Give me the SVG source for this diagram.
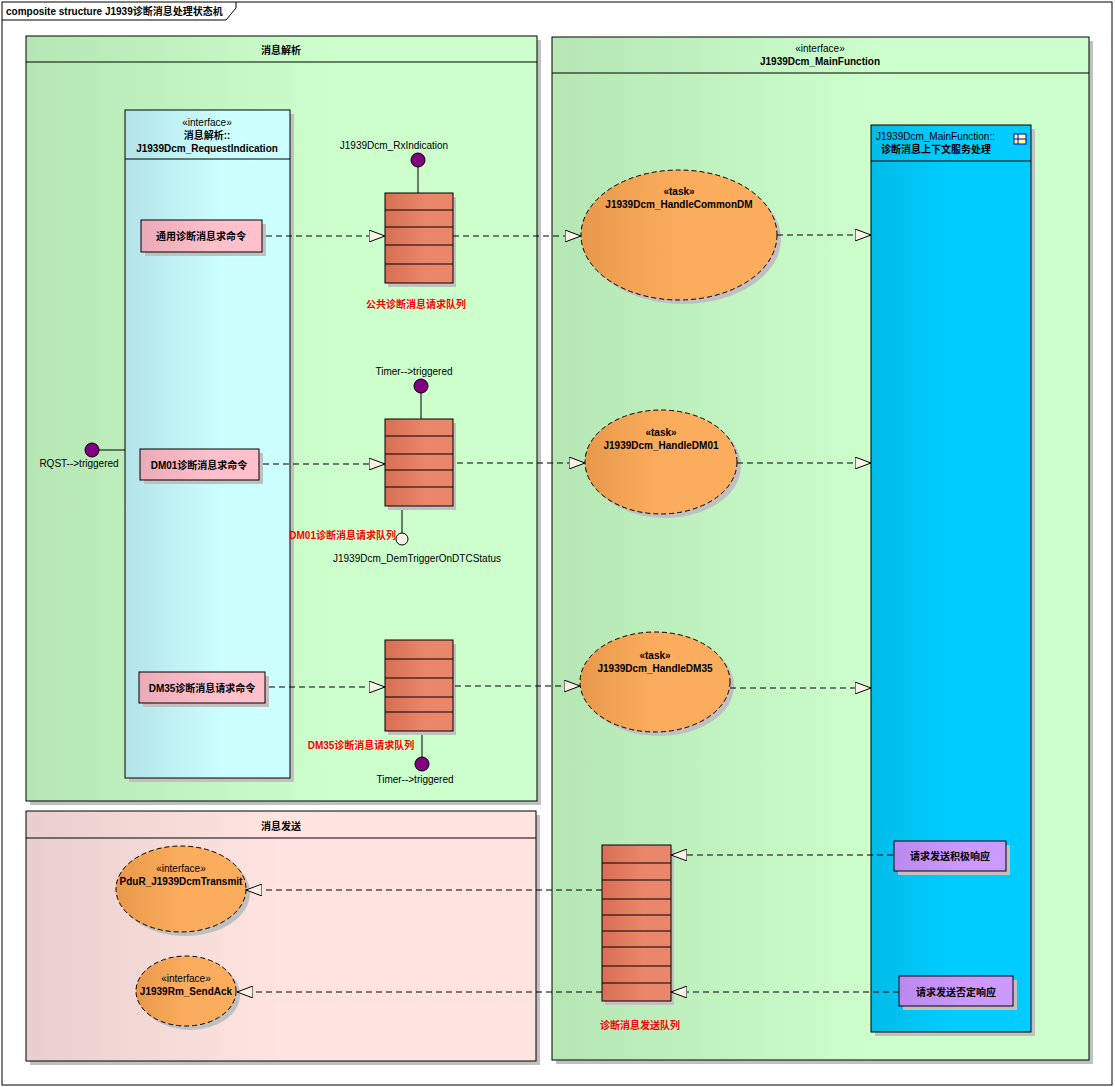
<svg xmlns="http://www.w3.org/2000/svg" width="1115" height="1087" viewBox="0 0 1115 1087">
<defs>
<linearGradient id="gG"><stop offset="0" stop-color="#b5e6b3"/><stop offset="0.6" stop-color="#ccffcc"/></linearGradient>
<linearGradient id="gP"><stop offset="0" stop-color="#e8cfcd"/><stop offset="0.5" stop-color="#ffe4e1"/></linearGradient>
<linearGradient id="gC"><stop offset="0" stop-color="#b3e3e8"/><stop offset="0.6" stop-color="#ccffff"/></linearGradient>
<linearGradient id="gQ"><stop offset="0" stop-color="#d86f55"/><stop offset="0.6" stop-color="#ea866a"/></linearGradient>
<linearGradient id="gE"><stop offset="0" stop-color="#e8984a"/><stop offset="0.5" stop-color="#fbad5d"/></linearGradient>
<linearGradient id="gB"><stop offset="0" stop-color="#00bce8"/><stop offset="0.5" stop-color="#00ccff"/></linearGradient>
<linearGradient id="gK"><stop offset="0" stop-color="#eaaab7"/><stop offset="0.6" stop-color="#ffc0cb"/></linearGradient>
<linearGradient id="gV"><stop offset="0" stop-color="#bb88ee"/><stop offset="0.6" stop-color="#cc99ff"/></linearGradient>
<marker id="tri" viewBox="0 0 16 12" refX="16" refY="6" markerWidth="16" markerHeight="12" markerUnits="userSpaceOnUse" orient="auto">
<path d="M0,0 L16,6 L0,12 Z" fill="#fdf2ea" stroke="#000" stroke-width="1"/></marker>
</defs>
<style>
text{font-family:"Liberation Sans","Noto Sans CJK SC",sans-serif;font-size:10px;fill:#000}
.b{font-weight:bold}
.m{text-anchor:middle}
.r{fill:#ff0000;font-weight:bold}
.sh{fill:#c0c0c0}
.ln{stroke:#000;fill:none}
.d{stroke:#000;stroke-dasharray:6,4;fill:none;marker-end:url(#tri)}
.q{fill:url(#gQ);stroke:#000}
.e{fill:url(#gE);stroke:#000;stroke-dasharray:5,3}
.ball{fill:#800080;stroke:#000}
</style>
<rect x="0" y="0" width="1115" height="1087" fill="#fff"/>
<rect x="2" y="2" width="1110" height="1083" fill="#fff" stroke="#000"/>
<path d="M2,20 H226 L236,8 V2" class="ln"/>
<text x="6" y="15" class="b">composite structure J1939诊断消息处理状态机</text>

<g id="pkg_parse">
<rect x="30" y="40" width="511" height="765" class="sh"/>
<rect x="26" y="36" width="511" height="765" fill="url(#gG)" stroke="#000"/>
<line x1="26" y1="62" x2="537" y2="62" stroke="#000"/>
<text x="281" y="54" class="b m">消息解析</text>
</g>
<g id="pkg_main">
<rect x="556" y="41" width="537" height="1023" class="sh"/>
<rect x="552" y="37" width="537" height="1023" fill="url(#gG)" stroke="#000"/>
<line x1="552" y1="73" x2="1089" y2="73" stroke="#000"/>
<text x="820" y="52" class="m">«interface»</text>
<text x="820" y="65" class="b m">J1939Dcm_MainFunction</text>
</g>
<g id="pkg_send">
<rect x="30" y="815" width="510" height="250" class="sh"/>
<rect x="26" y="811" width="510" height="250" fill="url(#gP)" stroke="#000"/>
<line x1="26" y1="838" x2="536" y2="838" stroke="#000"/>
<text x="281" y="830" class="b m">消息发送</text>
</g>
<g id="iface_req">
<rect x="129" y="114" width="165" height="668" class="sh"/>
<rect x="125" y="110" width="165" height="668" fill="url(#gC)" stroke="#000"/>
<line x1="125" y1="159" x2="290" y2="159" stroke="#000"/>
<text x="207" y="126" class="m">«interface»</text>
<text x="207" y="139" class="b m">消息解析::</text>
<text x="207" y="152" class="b m">J1939Dcm_RequestIndication</text>
</g>
<g id="ctx">
<rect x="875" y="129" width="160" height="907" class="sh"/>
<rect x="871" y="125" width="160" height="907" fill="url(#gB)" stroke="#000"/>
<line x1="871" y1="161" x2="1031" y2="161" stroke="#000"/>
<text x="876" y="140">J1939Dcm_MainFunction::</text>
<text x="881" y="153" class="b">诊断消息上下文服务处理</text>
<rect x="1014" y="134" width="12" height="10" fill="#ffff99" stroke="#0000cc"/>
<line x1="1018" y1="134" x2="1018" y2="144" stroke="#0000cc"/>
<line x1="1014" y1="139" x2="1026" y2="139" stroke="#0000cc"/>
</g>
<g id="cmd1"><rect x="145" y="224" width="121" height="32" class="sh"/><rect x="141" y="220" width="121" height="32" fill="url(#gK)" stroke="#000"/><text x="201" y="240" class="b m">通用诊断消息求命令</text></g>
<g id="cmd2"><rect x="144" y="453" width="119" height="31" class="sh"/><rect x="140" y="449" width="119" height="31" fill="url(#gK)" stroke="#000"/><text x="199" y="469" class="b m">DM01诊断消息求命令</text></g>
<g id="cmd3"><rect x="143" y="676" width="126" height="31" class="sh"/><rect x="139" y="672" width="126" height="31" fill="url(#gK)" stroke="#000"/><text x="202" y="692" class="b m">DM35诊断消息请求命令</text></g>
<g id="rqst"><line x1="92" y1="450" x2="125" y2="450" stroke="#000"/><circle cx="92" cy="450" r="7" class="ball"/><text x="79" y="467" class="m">RQST-->triggered</text></g>

<g id="q1">
<line x1="418" y1="160" x2="418" y2="193" stroke="#000"/>
<circle cx="418" cy="160" r="7" class="ball"/>
<text x="394" y="149" class="m">J1939Dcm_RxIndication</text>
<rect x="388" y="197" width="68" height="90" class="sh"/>
<rect x="385" y="193" width="68" height="90" class="q"/>
<path d="M385,210H453M385,227H453M385,245H453M385,264H453" stroke="#000"/>
<text x="416" y="308" class="r m">公共诊断消息请求队列</text>
</g>
<g id="q2">
<line x1="421" y1="386" x2="421" y2="419" stroke="#000"/>
<circle cx="421" cy="386" r="7" class="ball"/>
<text x="414" y="375" class="m">Timer-->triggered</text>
<line x1="402" y1="506" x2="402" y2="533" stroke="#000"/>
<rect x="388" y="423" width="68" height="87" class="sh"/>
<rect x="385" y="419" width="68" height="87" class="q"/>
<path d="M385,436H453M385,454H453M385,470H453M385,487H453" stroke="#000"/>
<circle cx="402" cy="539" r="6" fill="#fdf2ea" stroke="#000"/>
<text x="396" y="539" class="r" text-anchor="end">DM01诊断消息请求队列</text>
<text x="417" y="562" class="m">J1939Dcm_DemTriggerOnDTCStatus</text>
</g>
<g id="q3">
<line x1="422" y1="731" x2="422" y2="764" stroke="#000"/>
<circle cx="422" cy="764" r="7" class="ball"/>
<text x="415" y="783" class="m">Timer-->triggered</text>
<rect x="388" y="644" width="68" height="91" class="sh"/>
<rect x="385" y="640" width="68" height="91" class="q"/>
<path d="M385,659H453M385,678H453M385,697H453M385,712H453" stroke="#000"/>
<text x="361" y="749" class="r m">DM35诊断消息请求队列</text>
</g>
<g id="qsend">
<rect x="605" y="849" width="69" height="156" class="sh"/>
<rect x="602" y="845" width="69" height="156" class="q"/>
<path d="M602,863H671M602,880H671M602,899H671M602,915H671M602,931H671M602,947H671M602,966H671M602,983H671" stroke="#000"/>
<text x="640" y="1029" class="r m">诊断消息发送队列</text>
</g>

<g id="t1"><ellipse cx="683" cy="239" rx="98" ry="65" class="sh"/><ellipse cx="679" cy="235" rx="98" ry="65" class="e"/><text x="679" y="195" class="b m">«task»</text><text x="679" y="208" class="b m">J1939Dcm_HandleCommonDM</text></g>
<g id="t2"><ellipse cx="665" cy="466" rx="76" ry="52" class="sh"/><ellipse cx="661" cy="462" rx="76" ry="52" class="e"/><text x="661" y="436" class="b m">«task»</text><text x="661" y="449" class="b m">J1939Dcm_HandleDM01</text></g>
<g id="t3"><ellipse cx="659" cy="686" rx="75" ry="50" class="sh"/><ellipse cx="655" cy="682" rx="75" ry="50" class="e"/><text x="655" y="659" class="b m">«task»</text><text x="655" y="672" class="b m">J1939Dcm_HandleDM35</text></g>
<g id="pdur"><ellipse cx="185" cy="893" rx="65" ry="43" class="sh"/><ellipse cx="181" cy="889" rx="65" ry="43" class="e"/><text x="181" y="872" class="m">«interface»</text><text x="181" y="885" class="b m">PduR_J1939DcmTransmit</text></g>
<g id="rm"><ellipse cx="190" cy="995" rx="50" ry="35" class="sh"/><ellipse cx="186" cy="991" rx="50" ry="35" class="e"/><text x="186" y="982" class="m">«interface»</text><text x="186" y="995" class="b m">J1939Rm_SendAck</text></g>
<g id="pos"><rect x="898" y="845" width="112" height="30" class="sh"/><rect x="894" y="841" width="112" height="30" fill="url(#gV)" stroke="#000"/><text x="950" y="860" class="b m">请求发送积极响应</text></g>
<g id="neg"><rect x="903" y="980" width="114" height="30" class="sh"/><rect x="899" y="976" width="114" height="30" fill="url(#gV)" stroke="#000"/><text x="956" y="996" class="b m">请求发送否定响应</text></g>

<g id="connectors">
<line x1="266" y1="236" x2="385" y2="236" class="d"/>
<line x1="453" y1="236" x2="581" y2="236" class="d"/>
<line x1="777" y1="235" x2="871" y2="235" class="d"/>
<line x1="263" y1="464" x2="385" y2="464" class="d"/>
<line x1="457" y1="463" x2="585" y2="463" class="d"/>
<line x1="737" y1="463" x2="871" y2="463" class="d"/>
<line x1="269" y1="687" x2="385" y2="687" class="d"/>
<line x1="455" y1="686" x2="580" y2="686" class="d"/>
<line x1="730" y1="688" x2="871" y2="688" class="d"/>
<line x1="893" y1="855" x2="671" y2="855" class="d"/>
<line x1="602" y1="890" x2="246" y2="890" class="d"/>
<line x1="899" y1="992" x2="671" y2="992" class="d"/>
<line x1="602" y1="992" x2="237" y2="992" class="d"/>
</g>
</svg>
